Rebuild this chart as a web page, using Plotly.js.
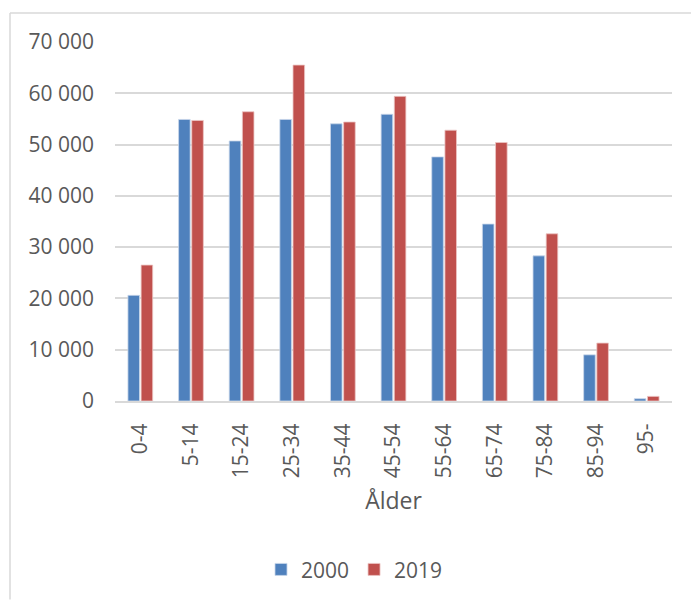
<!DOCTYPE html>
<html>
<head>
<meta charset="utf-8">
<script src="https://cdn.plot.ly/plotly-3.0.1.min.js"></script>
<style>
  html, body { margin: 0; padding: 0; background: #ffffff; }
  #chart { width: 691px; height: 601px; }
</style>
</head>
<body>
<div id="chart"></div>
<script>
// Age groups and population per group
const ageGroups = ['0-4', '5-14', '15-24', '25-34', '35-44', '45-54', '55-64', '65-74', '75-84', '85-94', '95-'];
const pop2000 = [20600, 54900, 50700, 54900, 54050, 55900, 47600, 34500, 28300, 9000, 450];
const pop2019 = [26500, 54700, 56400, 65500, 54400, 59400, 52800, 50400, 32600, 11300, 900];
const yTickVals = [0, 10000, 20000, 30000, 40000, 50000, 60000, 70000];
const yTickText = ['0', '10 000', '20 000', '30 000', '40 000', '50 000', '60 000', '70 000'];

const textColor = '#595959';
const gridColor = '#d9d9d9';
const fontFamily = '"Open Sans", "Liberation Sans", sans-serif';

const traces = [
  {
    type: 'bar', name: '2000', x: ageGroups, y: pop2000,
    marker: { color: '#4f81bd', line: { color: '#c9d7ea', width: 0.8 } },
    hoverinfo: 'x+y+name'
  },
  {
    type: 'bar', name: '2019', x: ageGroups, y: pop2019,
    marker: { color: '#c0504d', line: { color: '#ecc5c4', width: 0.8 } },
    hoverinfo: 'x+y+name'
  }
];

const layout = {
  width: 691, height: 601,
  margin: { l: 115, r: 19, t: 42, b: 199 },
  paper_bgcolor: '#ffffff', plot_bgcolor: '#ffffff',
  font: { family: fontFamily, size: 21, color: textColor },
  barmode: 'group',
  bargap: 0.48,
  bargroupgap: 0.12,
  showlegend: true,
  legend: {
    orientation: 'h', x: 0.43, xanchor: 'center', y: -0.466, yanchor: 'middle',
    font: { family: fontFamily, size: 21, color: textColor },
    itemwidth: 30, traceorder: 'normal'
  },
  xaxis: {
    type: 'category',
    tickangle: -90,
    showgrid: false,
    showline: true, linecolor: gridColor, linewidth: 2,
    ticks: '', ticklabelstandoff: 12,
    tickfont: { family: fontFamily, size: 21, color: textColor },
    title: { text: 'Ålder', font: { family: fontFamily, size: 23, color: textColor }, standoff: 16 },
    fixedrange: true
  },
  yaxis: {
    range: [0, 70000],
    tickvals: yTickVals, ticktext: yTickText,
    showgrid: true, gridcolor: gridColor, gridwidth: 2,
    zeroline: false, showline: false,
    ticks: '', ticklabelstandoff: 20,
    tickfont: { family: fontFamily, size: 21, color: textColor },
    fixedrange: true
  },
  shapes: [
    // frame edges around the chart area
    { type: 'line', xref: 'paper', yref: 'paper',
      x0: (10 - 115) / 557, x1: (10 - 115) / 557, y0: (601 - 13 - 199) / 360, y1: -199 / 360,
      line: { color: '#d9d9d9', width: 1.5 } },
    { type: 'line', xref: 'paper', yref: 'paper',
      x0: (10 - 115) / 557, x1: (691 - 115) / 557, y0: (601 - 13 - 199) / 360, y1: (601 - 13 - 199) / 360,
      line: { color: '#d9d9d9', width: 1.5 } }
  ]
};

Plotly.newPlot('chart', traces, layout, { displayModeBar: false, staticPlot: true });
</script>
</body>
</html>
